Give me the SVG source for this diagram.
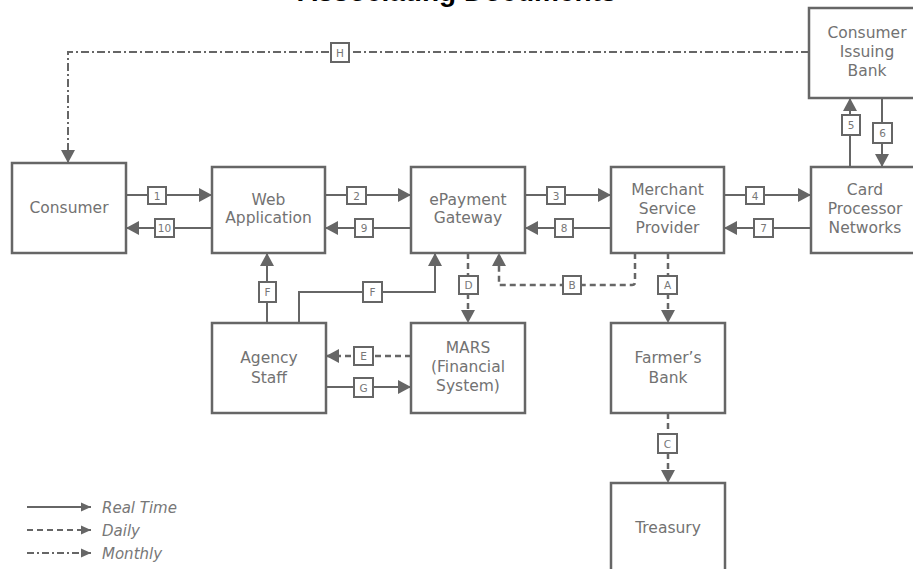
<svg xmlns="http://www.w3.org/2000/svg" width="913" height="569" viewBox="0 0 913 569">
<defs>
<marker id="ah" markerUnits="userSpaceOnUse" markerWidth="16" markerHeight="16" viewBox="0 0 16 16" refX="14" refY="8" orient="auto">
<path d="M1,1 L14,8 L1,15 Z" fill="#666"/>
</marker>
<marker id="ahs" markerUnits="userSpaceOnUse" markerWidth="12" markerHeight="12" viewBox="0 0 12 12" refX="11" refY="6" orient="auto">
<path d="M1,1.5 L11,6 L1,10.5 Z" fill="#666"/>
</marker>
<style>
.box{fill:#fff;stroke:#666;stroke-width:2.5}
.nt{font-family:"DejaVu Sans",sans-serif;font-size:15.5px;fill:#727272;text-anchor:middle}
.rt{fill:none;stroke:#666;stroke-width:2;marker-end:url(#ah)}
.dl{fill:none;stroke:#666;stroke-width:2.5;stroke-dasharray:6,4;marker-end:url(#ah)}
.mo{fill:none;stroke:#666;stroke-width:2;stroke-dasharray:8,3,2,3;marker-end:url(#ah)}
.lb{fill:#fff;stroke:#666;stroke-width:2}
.lt{font-family:"DejaVu Sans",sans-serif;font-size:10.5px;fill:#777;text-anchor:middle}
.lg{font-family:"DejaVu Sans",sans-serif;font-size:15px;font-style:italic;fill:#777}
.title{font-family:"Liberation Sans",Arial,sans-serif;font-size:28px;font-weight:bold;fill:#000;text-anchor:middle}
</style>
</defs>
<rect width="913" height="569" fill="#fff"/>
<text class="title" x="457" y="0.6">Associating Documents</text>

<g id="connectors">
<!-- H monthly -->
<path class="mo" d="M809,52 H68 V163"/>
<!-- 1 / 10 -->
<path class="rt" d="M124,195 H212"/>
<path class="rt" d="M212,228 H126"/>
<!-- 2 / 9 -->
<path class="rt" d="M324,195 H411"/>
<path class="rt" d="M411,228 H325"/>
<!-- 3 / 8 -->
<path class="rt" d="M523,195 H611"/>
<path class="rt" d="M611,228 H525"/>
<!-- 4 / 7 -->
<path class="rt" d="M722,195 H811"/>
<path class="rt" d="M811,228 H724"/>
<!-- 5 / 6 -->
<path class="rt" d="M850,167 V98"/>
<path class="rt" d="M882,96 V167"/>
<!-- D, B, A, C daily -->
<path class="dl" d="M468,253 V323"/>
<path class="dl" d="M635,253 V282 Q635,285 632,285 H499 V253"/>
<path class="dl" d="M668,253 V323"/>
<path class="dl" d="M668,413 V483"/>
<!-- E daily -->
<path class="dl" d="M411,356 H326"/>
<!-- G -->
<path class="rt" d="M323,387 H411"/>
<!-- F to web -->
<path class="rt" d="M267,323 V253"/>
<!-- F to ePay -->
<path class="rt" d="M299,323 V292 H435 V253"/>

<!-- labels -->
<rect class="lb" x="331" y="43" width="18" height="19"/><text class="lt" x="340" y="56.5">H</text>
<rect class="lb" x="148" y="187" width="18" height="17"/><text class="lt" x="157" y="199.5">1</text>
<rect class="lb" x="155" y="219" width="19" height="18"/><text class="lt" x="164.5" y="232">10</text>
<rect class="lb" x="347" y="187" width="19" height="17"/><text class="lt" x="356.5" y="199.5">2</text>
<rect class="lb" x="355" y="219" width="18" height="18"/><text class="lt" x="364" y="232">9</text>
<rect class="lb" x="547" y="187" width="18" height="17"/><text class="lt" x="556" y="199.5">3</text>
<rect class="lb" x="555" y="219" width="18" height="18"/><text class="lt" x="564" y="232">8</text>
<rect class="lb" x="746" y="187" width="18" height="17"/><text class="lt" x="755" y="199.5">4</text>
<rect class="lb" x="754" y="219" width="19" height="18"/><text class="lt" x="763.5" y="232">7</text>
<rect class="lb" x="842" y="115" width="18" height="20"/><text class="lt" x="851" y="129">5</text>
<rect class="lb" x="873" y="123" width="19" height="20"/><text class="lt" x="882.5" y="137">6</text>
<rect class="lb" x="459" y="276" width="19" height="18"/><text class="lt" x="468.5" y="289">D</text>
<rect class="lb" x="563" y="276" width="18" height="18"/><text class="lt" x="572" y="289">B</text>
<rect class="lb" x="658" y="276" width="19" height="18"/><text class="lt" x="667.5" y="289">A</text>
<rect class="lb" x="658" y="434" width="19" height="19"/><text class="lt" x="667.5" y="447.5">C</text>
<rect class="lb" x="354" y="347" width="19" height="18"/><text class="lt" x="363.5" y="360">E</text>
<rect class="lb" x="354" y="378" width="19" height="19"/><text class="lt" x="363.5" y="391.5">G</text>
<rect class="lb" x="259" y="282" width="17" height="20"/><text class="lt" x="267.5" y="296">F</text>
<rect class="lb" x="363" y="282" width="19" height="20"/><text class="lt" x="372.5" y="296">F</text>
</g>

<g id="consumer">
<rect class="box" x="12" y="163" width="114" height="90"/>
<text class="nt" x="69" y="213">Consumer</text>
</g>
<g id="web-application">
<rect class="box" x="212" y="167" width="113" height="86"/>
<text class="nt" x="268.5" y="205">Web</text>
<text class="nt" x="268.5" y="223">Application</text>
</g>
<g id="epayment-gateway">
<rect class="box" x="411" y="167" width="114" height="86"/>
<text class="nt" x="468" y="205">ePayment</text>
<text class="nt" x="468" y="223">Gateway</text>
</g>
<g id="merchant-service-provider">
<rect class="box" x="611" y="167" width="113" height="86"/>
<text class="nt" x="667.5" y="195">Merchant</text>
<text class="nt" x="667.5" y="214">Service</text>
<text class="nt" x="667.5" y="233">Provider</text>
</g>
<g id="card-processor-networks">
<rect class="box" x="811" y="167" width="114" height="86"/>
<text class="nt" x="865" y="195">Card</text>
<text class="nt" x="865" y="214">Processor</text>
<text class="nt" x="865" y="233">Networks</text>
</g>
<g id="consumer-issuing-bank">
<rect class="box" x="809" y="8" width="116" height="90"/>
<text class="nt" x="867" y="38">Consumer</text>
<text class="nt" x="867" y="57">Issuing</text>
<text class="nt" x="867" y="76">Bank</text>
</g>
<g id="agency-staff">
<rect class="box" x="212" y="323" width="114" height="90"/>
<text class="nt" x="269" y="363">Agency</text>
<text class="nt" x="269" y="383">Staff</text>
</g>
<g id="mars">
<rect class="box" x="411" y="323" width="114" height="90"/>
<text class="nt" x="468" y="353">MARS</text>
<text class="nt" x="468" y="372">(Financial</text>
<text class="nt" x="468" y="391">System)</text>
</g>
<g id="farmers-bank">
<rect class="box" x="611" y="323" width="114" height="90"/>
<text class="nt" x="668" y="363">Farmer’s</text>
<text class="nt" x="668" y="383">Bank</text>
</g>
<g id="treasury">
<rect class="box" x="611" y="483" width="114" height="100"/>
<text class="nt" x="668" y="533">Treasury</text>
</g>

<g id="legend">
<path d="M27,507 H91" fill="none" stroke="#666" stroke-width="2" marker-end="url(#ahs)"/>
<text class="lg" x="102" y="513">Real Time</text>
<path d="M27,530 H91" fill="none" stroke="#666" stroke-width="2" stroke-dasharray="6,4" marker-end="url(#ahs)"/>
<text class="lg" x="102" y="536">Daily</text>
<path d="M27,553 H91" fill="none" stroke="#666" stroke-width="2" stroke-dasharray="7,3,2,3" marker-end="url(#ahs)"/>
<text class="lg" x="102" y="559">Monthly</text>
</g>
</svg>
